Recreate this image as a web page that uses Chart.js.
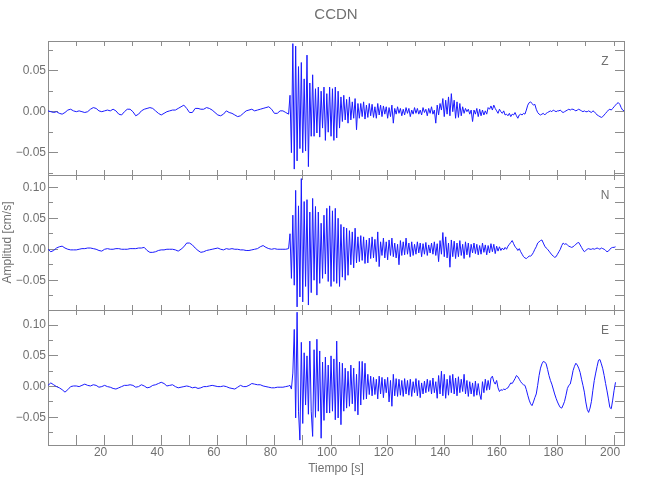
<!DOCTYPE html>
<html>
<head>
<meta charset="utf-8">
<script src="https://cdn.jsdelivr.net/npm/chart.js@4"></script>
<style>
  body { margin: 0; background: #fff; }
  #contenedor { position: relative; width: 650px; height: 500px; }
  canvas { position: absolute; left: 0; }
</style>
</head>
<body>
<div id="contenedor">
  <canvas id="panelZ" width="650" height="195" style="top:0px"></canvas>
  <canvas id="panelN" width="650" height="175" style="top:155px"></canvas>
  <canvas id="panelE" width="650" height="210" style="top:290px"></canvas>
</div>
<script>
// amplitudes en milesimas de cm/s
const inicioPre = 0;
const pasoPre = 1;
const inicioEvento = 85.5;
const pasoEvento = 0.5;
const tiempoMax = 203.5;

const zPre = [1, 0, -1, 0, -2, -3, -1, 2, 3, 1,
  0, 1, 0, -1, 0, 3, 5, 4, 1, 0,
  1, 2, 1, 3, 1, -3, -4, 0, 3, 3,
  0, -5, -3, 1, 3, 4, 5, 4, 1, -2,
  -4, -2, 0, 1, 2, 2, 4, 6, 8, 4,
  -1, -1, 4, 4, 3, 3, 5, 4, 2, -1,
  -4, -5, -3, 1, -1, -2, -4, -6, -5, -2,
  1, 2, 3, 1, 2, 3, 4, 5, 6, 3,
  -2, -2, 1, 1, -1, -3];

const zEvento = [20, -50, 83, -70, 80, -60, 55, -45, 60, -50,
  40, -48, 69, -67, 35, -30, 45, -30, 28, -26,
  30, -31, 25, -20, 30, -35, 22, -25, 30, -30,
  28, -35, 30, -32, 25, -20, 18, -12, 20, -10,
  15, -14, 18, -10, 12, -8, 16, -22, 10, -8,
  10, -6, 12, -9, 8, -7, 10, -5, 9, -7,
  6, -8, 10, -4, 8, -6, 7, -3, 6, -8,
  5, -6, 8, -14, 4, -3, 6, -2, 4, -5,
  3, -4, 5, -2, 4, -6, 2, -3, 5, -2,
  4, -3, 2, -4, 5, -1, 3, -5, 4, -2,
  6, -3, 2, -14, 8, -4, 10, 2, 16, -6,
  14, -3, 18, -5, 22, 0, 14, -8, 12, -7,
  10, -5, 6, -2, 4, 0, 3, -3, 2, -12,
  2, -3, 4, -6, 3, -5, 2, -4, 1, -3,
  5, 3, 7, 2, 8, 4, 1, -2, 3, 0,
  -2, 1, -4, -3, -5, -2, -6, -3, -4, -1,
  -5, -8, -4, -3, -4, -2, -3, 2, 8, 11,
  12, 10, 8, 9, 3, -1, -3, -4, -3, -2,
  -4, -2, -1, 0, 1, 0, 2, 1, 0, 1,
  1, 2, 0, -1, 0, 1, 2, 3, 2, 3,
  3, 2, 1, 2, 3, 2, 1, 0, 1, 0,
  0, 1, 0, -1, 1, 0, -2, -4, -5, -6,
  -7, -6, -4, -2, 0, 2, 3, 2, 4, 6,
  8, 10, 11, 9, 5, 2, 1];

const nPre = [0, -4, -2, 2, 4, 5, 2, 0, -1, -1,
  -1, 0, 1, 1, 2, 2, 1, 0, -2, -3,
  0, 1, 0, 0, 1, 1, 0, 0, 0, 1,
  1, 1, 2, 2, 3, -2, -5, -5, -4, -2,
  -1, -1, 0, 0, 0, -1, -3, 0, 4, 10,
  10, 7, 2, -2, -5, -4, -2, -1, 0, 1,
  2, 0, -1, 1, 0, 1, 0, 0, -1, -1,
  -2, -2, -1, 0, 1, 4, 6, 3, 1, 0,
  1, 0, 0, 0, 0, 1];

const nEvento = [25, -47, 55, -58, 95, -93, 70, -77, 114, -85,
  77, -60, 80, -90, 60, -70, 82, -50, 69, -74,
  60, -55, 42, -47, 55, -40, 66, -52, 70, -60,
  62, -52, 66, -55, 50, -60, 40, -45, 36, -50,
  34, -42, 30, -25, 28, -30, 34, -22, 20, -20,
  22, -18, 20, -23, 15, -22, 18, -15, 20, -14,
  16, -20, 28, -28, 12, -10, 18, -14, 12, -17,
  15, -10, 18, -12, 10, -14, 8, -25, 14, -10,
  12, -9, 18, -8, 10, -12, 12, -10, 8, -8,
  12, -6, 10, -12, 9, -8, 11, -10, 7, -6,
  10, -8, 12, -10, 9, -20, 14, -8, 27, -12,
  20, -14, 10, -29, 15, -12, 13, -15, 10, -12,
  14, -10, 8, -15, 12, -9, 10, -13, 8, -6,
  10, -7, 8, -9, 6, -8, 10, -5, 7, -9,
  6, -6, 9, -4, 8, -7, 5, -3, 4, -2,
  2, -1, 3, 0, 5, 8, 11, 14, 9, 4,
  2, -2, 1, -4, -8, -12, -14, -15, -13, -11,
  -11, -9, -5, 0, 4, 10, 12, 14, 15, 10,
  5, 2, 0, -3, -6, -9, -11, -13, -12, -8,
  -4, 0, 6, 10, 8, 9, 7, 5, 4, 3,
  4, 6, 8, 10, 11, 7, 3, -1, -4, -2,
  0, 1, 0, 0, 1, 0, 1, 2, 1, 0,
  2, 1, 0, -2, -4, -3, 0, 2, 3, 3,
  4];

const ePre = [2, 6, 3, 0, -2, -5, -9, -5, 0, 1,
  1, 0, 2, 4, 2, 1, 3, 2, -1, 0,
  2, 0, -1, -3, -4, -2, 0, 2, 2, 3,
  2, -1, 0, 3, 1, -2, -1, 2, 3, 5,
  7, 5, 1, 2, 3, 0, -2, -1, 0, 1,
  0, -2, -1, -3, -2, 0, 0, 1, 2, 1,
  0, 0, 1, 0, -2, -3, -4, -1, 2, 0,
  0, 2, 5, 4, 3, 3, 1, 0, -1, -2,
  -2, -1, -1, -1, 0, 1];

const eEvento = [2, -4, 22, 93, -51, 121, -40, -87, 72, -60,
  55, -30, 50, -45, 74, -40, -81, 60, -50, 77,
  -40, 58, -84, 40, -55, 48, -43, 35, -43, 50,
  -40, 45, -54, 74, -51, 40, -62, 38, -40, 30,
  -35, 25, -32, 35, -28, 30, -40, 20, -46, 41,
  -30, 41, -21, 38, -20, 20, -13, 17, -15, 15,
  -13, 12, -20, 17, -12, 15, -18, 12, -10, 15,
  -25, 10, -32, 20, -15, 13, -16, 12, -14, 10,
  -16, 13, -12, 10, -14, 12, -16, 8, -10, 13,
  -15, 10, -18, 6, -12, 9, -10, 12, -8, 10,
  -12, 14, -10, 8, -19, 18, -12, 25, -15, 20,
  -19, 12, -14, 18, -10, 20, -12, 14, -15, 16,
  -10, 12, -8, 20, -12, 10, -16, 8, -12, 6,
  -16, 9, -14, 5, -12, -21, 8, -10, 12, -6,
  10, -5, 14, 17, 8, 4, 10, -2, -8, -5,
  -6, -4, -5, -3, -2, 2, 6, 5, 9, 13,
  18, 16, 12, 8, 5, 3, 2, -5, -14, -22,
  -28, -31, -25, -18, -12, 2, 18, 30, 37, 41,
  40, 37, 28, 18, 10, 4, -4, -12, -19, -25,
  -30, -34, -35, -30, -24, -14, -3, 2, 4, 14,
  26, 33, 38, 35, 30, 23, 12, 2, -9, -25,
  -37, -42, -35, -24, -6, 10, 22, 33, 43, 44,
  37, 29, 18, 5, -7, -20, -34, -36, -22, -6,
  7];

const canales = ["Z", "N", "E"];
const rangosY = [[-0.0772, 0.0862], [-0.098, 0.1198], [-0.095, 0.1246]];

const colorMarco = "#8c8c8c";
const colorTexto = "#707070";
const colorTraza = "#1a1aff";
const familia = "'Liberation Sans', Arial, sans-serif";
const fuenteTicks = { family: familia, size: 12 };
const fuenteTitulo = { family: familia, size: 12, lineHeight: 1.2 };

function construirSerie(pre, evento) {
  const puntos = pre.map((v, i) => ({ x: inicioPre + i * pasoPre, y: v / 1000 }));
  evento.forEach((v, i) => puntos.push({ x: inicioEvento + i * pasoEvento, y: v / 1000 }));
  return puntos;
}

function formatoAmplitud(valor) {
  if (Math.abs(valor) < 1e-9) return "0.00";
  return valor.toFixed(2).replace("-", "\u2212");
}

const etiquetaCanal = {
  id: "etiquetaCanal",
  afterDraw(chart, args, opts) {
    const { ctx, chartArea } = chart;
    ctx.save();
    ctx.font = "12px " + familia;
    ctx.fillStyle = colorTexto;
    ctx.textAlign = "center";
    ctx.textBaseline = "middle";
    ctx.fillText(opts.texto, chartArea.right - 19, chartArea.top + 21);
    ctx.restore();
  }
};

function ejeX(posicion, alto, largoTick, conEtiquetas, titulo) {
  return {
    type: "linear",
    position: posicion,
    min: 0,
    max: tiempoMax,
    grid: { drawOnChartArea: false, tickLength: -largoTick, color: colorMarco },
    border: { color: colorMarco },
    ticks: {
      display: conEtiquetas,
      stepSize: 10,
      maxTicksLimit: 100,
      includeBounds: false,
      autoSkip: false,
      maxRotation: 0,
      padding: largoTick,
      labelOffset: -4,
      color: colorTexto,
      font: fuenteTicks,
      callback: valor => (valor > 0 && valor % 20 === 0 ? String(valor) : "")
    },
    title: {
      display: !!titulo,
      text: titulo || "",
      color: colorTexto,
      font: fuenteTitulo,
      padding: { top: 0, bottom: 24 }
    },
    afterFit: eje => {
      eje.height = alto;
      eje.paddingLeft = 0;
      eje.paddingRight = 0;
    }
  };
}

function ejeY(posicion, ancho, largoTick, paso, conEtiquetas, peso, rango, titulo) {
  return {
    type: "linear",
    position: posicion,
    weight: peso,
    min: rango[0],
    max: rango[1],
    grid: { drawOnChartArea: false, tickLength: -largoTick, color: colorMarco },
    border: { display: ancho > 0, color: colorMarco },
    ticks: {
      display: conEtiquetas,
      stepSize: paso,
      maxTicksLimit: 100,
      includeBounds: false,
      padding: largoTick + 2,
      color: colorTexto,
      font: fuenteTicks,
      callback: formatoAmplitud
    },
    title: {
      display: !!titulo,
      text: titulo || "",
      color: colorTexto,
      font: fuenteTitulo,
      padding: 0
    },
    afterFit: eje => {
      eje.width = ancho;
      eje.paddingTop = 0;
      eje.paddingBottom = 0;
    }
  };
}

function crearPanel(canvasId, indice, datos, config) {
  const canvas = document.getElementById(canvasId);
  const rango = rangosY[indice];

  new Chart(canvas, {
    type: "line",
    data: {
      datasets: [{
        data: datos,
        xAxisID: "x",
        yAxisID: "y",
        borderColor: colorTraza,
        borderWidth: 1,
        borderJoinStyle: "round",
        pointRadius: 0,
        tension: 0
      }]
    },
    plugins: [etiquetaCanal],
    options: {
      responsive: false,
      animation: false,
      events: [],
      devicePixelRatio: 1,
      layout: { padding: 0 },
      plugins: {
        legend: { display: false },
        tooltip: { enabled: false },
        title: {
          display: !!config.titulo,
          text: config.titulo || "",
          fullSize: false,
          color: colorTexto,
          font: { family: familia, size: 15, weight: "normal", lineHeight: 1.2 },
          padding: { top: 6, bottom: 4 }
        },
        etiquetaCanal: { texto: canales[indice] }
      },
      scales: {
        x: ejeX("bottom", config.altoAbajo, config.tickAbajo, config.etiquetasX, config.tituloX),
        xSup: ejeX("top", config.altoArriba, 5, false, null),
        y: ejeY("left", 48, 10, 0.05, true, 1, rango, config.tituloY),
        yMenor: ejeY("left", 0, 5, 0.025, false, 0, rango, null),
        yDer: ejeY("right", 26, 9, 0.025, false, 0, rango, null)
      }
    }
  });
}

function cargarSismograma() {
  crearPanel("panelZ", 0, construirSerie(zPre, zEvento), {
    titulo: "CCDN", altoArriba: 13, altoAbajo: 20, tickAbajo: 5, etiquetasX: false
  });
  crearPanel("panelN", 1, construirSerie(nPre, nEvento), {
    altoArriba: 20, altoAbajo: 20, tickAbajo: 5, etiquetasX: false, tituloY: "Amplitud [cm/s]"
  });
  crearPanel("panelE", 2, construirSerie(ePre, eEvento), {
    altoArriba: 20, altoAbajo: 55, tickAbajo: 10, etiquetasX: true, tituloX: "Tiempo [s]"
  });
}

document.addEventListener("DOMContentLoaded", cargarSismograma);
</script>
</body>
</html>
